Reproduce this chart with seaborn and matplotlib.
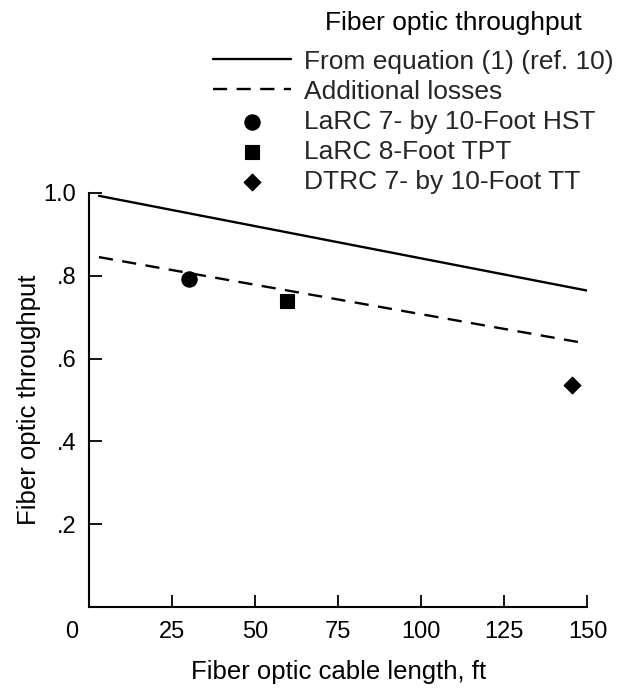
import matplotlib
matplotlib.use("Agg")
import matplotlib.pyplot as plt
import matplotlib.transforms as mtransforms
import seaborn as sns

# ---- data ----
eq_x = [3, 150]
eq_y = [0.993, 0.764]
loss_x = [3, 150]
loss_y = [0.845, 0.636]
hst_x, hst_y = [30], [0.792]
tpt_x, tpt_y = [59.5], [0.74]
tt_x, tt_y = [145.5], [0.535]

x_ticks = [0, 25, 50, 75, 100, 125, 150]
x_tick_labels = ["0", "25", "50", "75", "100", "125", "150"]
y_ticks = [0.2, 0.4, 0.6, 0.8, 1.0]
y_tick_labels = [".2", ".4", ".6", ".8", "1.0"]

labels = ["From equation (1) (ref. 10)", "Additional losses",
          "LaRC 7- by 10-Foot HST", "LaRC 8-Foot TPT", "DTRC 7- by 10-Foot TT"]
legend_title = "Fiber optic throughput"

sns.set_theme(style="ticks")
plt.rcParams["font.family"] = ["Liberation Sans", "DejaVu Sans"]

fig = plt.figure(figsize=(6.2, 6.89), dpi=100)
ax = fig.add_axes([0.1435, 0.119, 0.804, 0.601])

sns.lineplot(x=eq_x, y=eq_y, ax=ax, color="black", lw=1.7, label=labels[0])
sns.lineplot(x=loss_x, y=loss_y, ax=ax, color="black", lw=1.7,
             label=labels[1])
ax.lines[-1].set_dashes((6, 4))
sns.scatterplot(x=hst_x, y=hst_y, ax=ax, color="black", marker="o", s=120,
                edgecolor="black", label=labels[2])
sns.scatterplot(x=tpt_x, y=tpt_y, ax=ax, color="black", marker="s", s=100,
                edgecolor="black", label=labels[3])
sns.scatterplot(x=tt_x, y=tt_y, ax=ax, color="black", marker="D", s=75,
                edgecolor="black", label=labels[4])

ax.set_xlim(0, 150)
ax.set_ylim(0, 1.0)
ax.set_xticks(x_ticks)
ax.set_xticklabels(x_tick_labels)
ax.set_yticks(y_ticks)
ax.set_yticklabels(y_tick_labels)
ax.tick_params(direction="in", length=9, width=1.3, labelsize=17,
               colors="black", pad=9)
ax.tick_params(axis="x", pad=10)
# first x tick ("0") sits at the corner: hide its mark, shift its label left
ax.xaxis.get_major_ticks()[0].tick1line.set_visible(False)
lbl0 = ax.get_xticklabels()[0]
lbl0.set_transform(lbl0.get_transform() +
                   mtransforms.ScaledTranslation(-17 / 100, 0, fig.dpi_scale_trans))

for s in ["top", "right"]:
    ax.spines[s].set_visible(False)
for s in ["left", "bottom"]:
    ax.spines[s].set_linewidth(1.5)
    ax.spines[s].set_color("black")

ax.set_xlabel("Fiber optic cable length, ft", fontsize=18.5, labelpad=12,
              color="black")
ax.set_ylabel("Fiber optic throughput", fontsize=18.5, labelpad=2,
              color="black")

ax.get_legend().remove()
handles, _ = ax.get_legend_handles_labels()
leg = fig.legend(handles, labels, loc="upper left",
                 bbox_to_anchor=(0.344, 0.928), frameon=False, fontsize=19,
                 handlelength=2.95, handletextpad=0.5, labelspacing=0.23,
                 borderaxespad=0, borderpad=0)
fig.text(0.731, 0.966, legend_title, ha="center", va="center",
         fontsize=19, color="black")

fig.savefig("out.png", dpi=100, facecolor="white")
